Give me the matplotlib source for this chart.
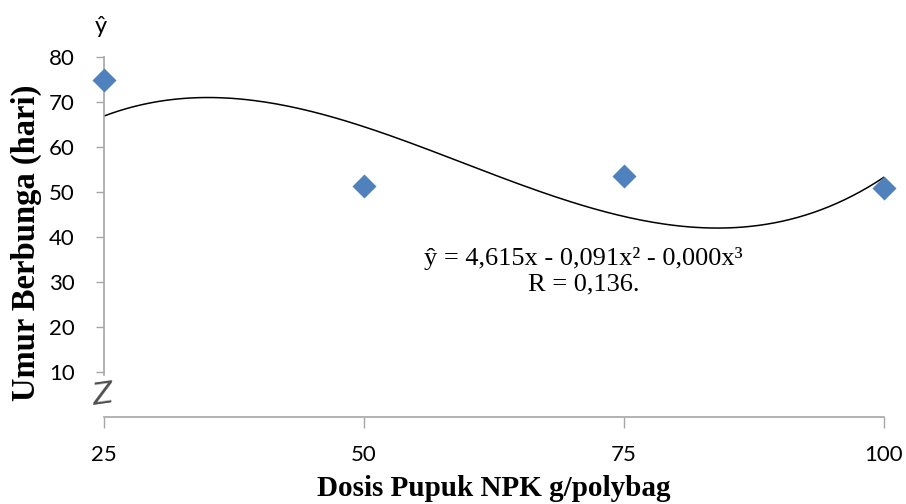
import numpy as np
import matplotlib
matplotlib.use('Agg')
import matplotlib.pyplot as plt

# data
dosis = [25, 50, 75, 100]
umur = [75.0, 51.4, 53.6, 50.9]
# cubic trendline coefficients (highest power first), estimated from the drawn curve
trend_coef = [0.000493, -0.0880, 4.348, 5.48]
x_ticks = [25, 50, 75, 100]
y_ticks = [10, 20, 30, 40, 50, 60, 70, 80]

axis_grey = '#a6a6a6'
tick_font = 'Lato'
serif_font = 'Liberation Serif'

fig = plt.figure(figsize=(9.06, 5.04), dpi=100)
ax = fig.add_axes([0.1148, 0.1726, 0.8609, 0.7143])

xs = np.linspace(min(dosis), max(dosis), 200)
ax.plot(xs, np.polyval(trend_coef, xs), color='black', linewidth=1.1)
ax.scatter(dosis, umur, marker='D', s=150, color='#4f81bd', zorder=3, linewidths=0,
           clip_on=False)

ax.set_xlim(25, 100)
ax.set_ylim(0, 80)
ax.set_xticks(x_ticks)
ax.set_yticks(y_ticks)
ax.set_xticklabels([str(v) for v in x_ticks], fontname=tick_font, fontsize=16)
ax.set_yticklabels([str(v) for v in y_ticks], fontname=tick_font, fontsize=16)
ax.tick_params(axis='x', length=8, width=1, color=axis_grey, pad=12)
ax.tick_params(axis='y', length=6, width=1, color=axis_grey, pad=15)

for s in ['top', 'right']:
    ax.spines[s].set_visible(False)
for s in ['left', 'bottom']:
    ax.spines[s].set_color(axis_grey)
    ax.spines[s].set_linewidth(1.2)
ax.spines['left'].set_bounds(9.3, 80)

# axis break mark
ax.text(-0.002, 0.06, 'Z', transform=ax.transAxes, fontsize=22, fontstyle='italic',
        fontname='DejaVu Sans', color='#505050', ha='center', va='center',
        rotation=8, clip_on=False)

# y-hat label above the axis
ax.text(-0.004, 1.055, 'ŷ', transform=ax.transAxes, fontsize=17, fontname=tick_font,
        ha='center', va='bottom')

ax.set_xlabel('Dosis Pupuk NPK g/polybag', fontname=serif_font, fontsize=21,
              fontweight='bold')
ax.set_ylabel('Umur Berbunga (hari)', fontname=serif_font, fontsize=23.5,
              fontweight='bold')
ax.xaxis.set_label_coords(0.5, -0.162)
ax.yaxis.set_label_coords(-0.08, 0.483)

ax.text(0.615, 0.405, 'ŷ = 4,615x - 0,091x² - 0,000x³\nR = 0,136.', transform=ax.transAxes,
        fontname=serif_font, fontsize=19, ha='center', va='center', linespacing=1.25)

fig.savefig('out.png', dpi=100)
